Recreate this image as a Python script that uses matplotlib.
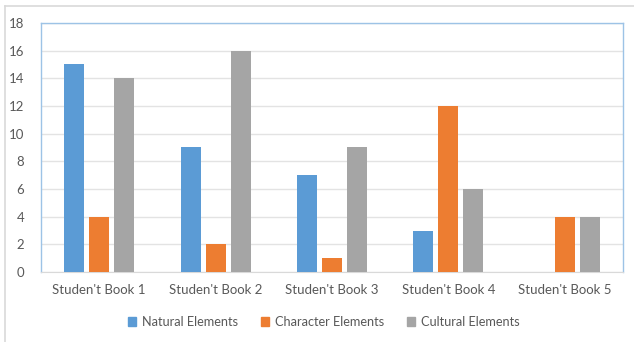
import matplotlib
matplotlib.use("Agg")
import matplotlib.pyplot as plt
from matplotlib.patches import Rectangle
import numpy as np

categories = ["Studen't Book 1", "Studen't Book 2", "Studen't Book 3", "Studen't Book 4", "Studen't Book 5"]
natural = [15, 9, 7, 3, 0]
character = [4, 2, 1, 12, 4]
cultural = [14, 16, 9, 6, 4]
series_names = ["Natural Elements", "Character Elements", "Cultural Elements"]
colors = ["#5B9BD5", "#ED7D31", "#A5A5A5"]

plt.rcParams['font.family'] = ['Lato', 'DejaVu Sans']
W, H = 634, 342
fig = plt.figure(figsize=(W/100, H/100), dpi=100)
fig.patch.set_facecolor("white")

# outer border (top and left visible)
fig.add_artist(plt.Line2D([5/W, 5/W], [0, 1 - 6/H], color="#D9D9D9", lw=1.2, transform=fig.transFigure))
fig.add_artist(plt.Line2D([5/W, 1], [1 - 6/H, 1 - 6/H], color="#D9D9D9", lw=1.2, transform=fig.transFigure))

left, right, top, bottom = 41, 623, 23, 272
ax = fig.add_axes([left/W, 1 - bottom/H, (right-left)/W, (bottom-top)/H])

x = np.arange(len(categories))
bw = 0.172
step = 0.215
for i, (vals, c, name) in enumerate(zip([natural, character, cultural], colors, series_names)):
    ax.bar(x + (i-1)*step, vals, width=bw, color=c, label=name, zorder=3)

ax.set_xlim(-0.5, len(categories) - 0.5)
ax.set_ylim(0, 18)
ax.set_yticks(np.arange(0, 19, 2))
ax.set_xticks(x)
ax.set_xticklabels(categories)
ax.grid(axis="y", color="#E3E3E3", lw=1, zorder=0)
ax.tick_params(axis="both", length=0, colors="#595959", labelsize=9.5)
ax.tick_params(axis="x", pad=9)
ax.tick_params(axis="y", pad=12)
for s in ["left", "right", "top"]:
    ax.spines[s].set_color("#9DC3E6")
    ax.spines[s].set_linewidth(1)
ax.spines["bottom"].set_color("#D9D9D9")

handles = [Rectangle((0, 0), 1, 1, color=c) for c in colors]
leg = fig.legend(handles, series_names, loc="center", bbox_to_anchor=(324/W, 1 - 322/H),
                 ncol=3, frameon=False, fontsize=9.2, handlelength=0.6, handleheight=0.6,
                 handletextpad=0.5, columnspacing=1.8)
for t in leg.get_texts():
    t.set_color("#595959")

fig.savefig("out.png", dpi=100, facecolor="white")
